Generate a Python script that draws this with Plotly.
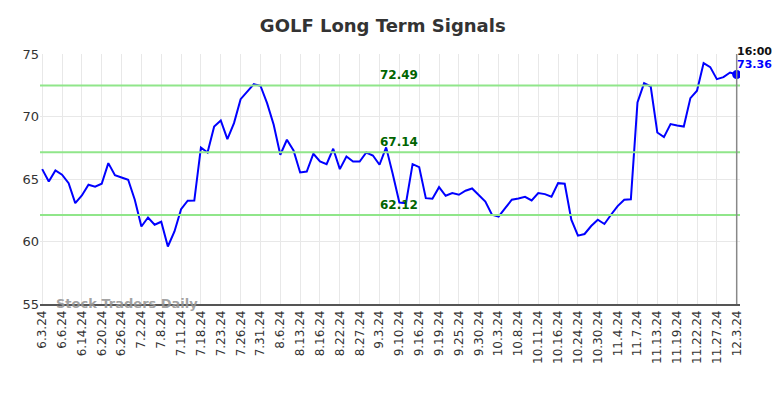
import plotly.graph_objects as go

tick_labels = ["6.3.24", "6.6.24", "6.14.24", "6.20.24", "6.26.24", "7.2.24", "7.8.24",
               "7.11.24", "7.18.24", "7.23.24", "7.26.24", "7.31.24", "8.6.24", "8.13.24",
               "8.16.24", "8.22.24", "8.27.24", "9.3.24", "9.10.24", "9.16.24", "9.19.24",
               "9.25.24", "9.30.24", "10.3.24", "10.8.24", "10.11.24", "10.16.24", "10.24.24",
               "10.30.24", "11.4.24", "11.7.24", "11.13.24", "11.19.24", "11.22.24",
               "11.27.24", "12.3.24"]

prices = [65.79, 64.80, 65.68, 65.34, 64.67, 63.07, 63.68, 64.54, 64.38, 64.62,
          66.27, 65.31, 65.12, 64.94, 63.34, 61.20, 61.92, 61.34, 61.58, 59.60,
          60.80, 62.59, 63.26, 63.28, 67.52, 67.12, 69.20, 69.68, 68.19, 69.47,
          71.39, 71.95, 72.59, 72.46, 71.07, 69.34, 66.94, 68.14, 67.28, 65.52,
          65.60, 67.02, 66.40, 66.19, 67.42, 65.79, 66.80, 66.40, 66.40, 67.12,
          66.88, 66.14, 67.53, 65.40, 63.12, 63.07, 66.19, 65.95, 63.47, 63.42,
          64.35, 63.66, 63.87, 63.74, 64.06, 64.24, 63.74, 63.20, 62.14, 62.00,
          62.67, 63.34, 63.44, 63.58, 63.29, 63.87, 63.79, 63.59, 64.67, 64.62,
          61.74, 60.47, 60.60, 61.24, 61.74, 61.40, 62.14, 62.83, 63.34, 63.38,
          71.12, 72.67, 72.40, 68.72, 68.35, 69.39, 69.28, 69.20, 71.47, 72.06,
          74.27, 73.95, 72.99, 73.15, 73.52, 73.36]

signal_levels = [72.49, 67.14, 62.12]
signal_labels = ["72.49", "67.14", "62.12"]
last_time = "16:00"
last_label = "73.36"

FONT = "DejaVu Sans, sans-serif"
x = list(range(len(prices)))
tick_vals = list(range(0, len(prices), 3))
n = len(prices) - 1

fig = go.Figure()

for lvl in signal_levels:
    fig.add_shape(type="line", xref="paper", x0=0, x1=1, yref="y", y0=lvl, y1=lvl,
                  line=dict(color="#90e68a", width=2), layer="above")

fig.add_shape(type="line", xref="x", x0=n, x1=n, yref="paper", y0=0, y1=1,
              line=dict(color="#888888", width=1.5))

fig.add_trace(go.Scatter(x=x, y=prices, mode="lines",
                         line=dict(color="#0000ff", width=2), hoverinfo="skip"))
fig.add_trace(go.Scatter(x=[n], y=[prices[-1]], mode="markers",
                         marker=dict(color="#0000ff", size=9), hoverinfo="skip"))

for lvl, lab in zip(signal_levels, signal_labels):
    fig.add_annotation(x=54, y=lvl, text="<b>" + lab + "</b>", showarrow=False,
                       xanchor="center", yanchor="bottom", yshift=1,
                       font=dict(family=FONT, size=12, color="#006400"))

fig.add_annotation(x=n, y=prices[-1], text="<b>" + last_time + "</b>", showarrow=False,
                   xanchor="left", yanchor="middle", xshift=-2, yshift=23,
                   font=dict(family=FONT, size=11, color="#111111"))
fig.add_annotation(x=n, y=prices[-1], text="<b>" + last_label + "</b>", showarrow=False,
                   xanchor="left", yanchor="middle", xshift=-2, yshift=10,
                   font=dict(family=FONT, size=11, color="#0000ff"))

fig.add_annotation(xref="paper", yref="y", x=0.02, y=55, text="<b>Stock Traders Daily</b>",
                   showarrow=False, xanchor="left", yanchor="middle", yshift=1,
                   font=dict(family=FONT, size=13, color="rgba(150,150,150,0.9)"))

fig.update_layout(
    width=784, height=398,
    margin=dict(l=32, r=52, t=46, b=102),
    paper_bgcolor="white", plot_bgcolor="white",
    showlegend=False,
    title=dict(text="<b>GOLF Long Term Signals</b>", x=0.478, xanchor="center", y=0.955,
               yanchor="middle", font=dict(family=FONT, size=18, color="#333333")),
    font=dict(family=FONT, size=12, color="#333333"),
)
fig.update_xaxes(range=[-0.33, 105.5], tickmode="array", tickvals=tick_vals, ticktext=tick_labels,
                 tickangle=-90, showgrid=True, gridcolor="#e8e8e8", gridwidth=1,
                 showline=True, linecolor="#555555", linewidth=1.5, ticks="",
                 tickfont=dict(family=FONT, size=12, color="#333333"), zeroline=False)
fig.update_yaxes(range=[55, 75], tickvals=[55, 60, 65, 70, 75], showgrid=True,
                 gridcolor="#e8e8e8", gridwidth=1, showline=False, ticks="",
                 tickfont=dict(family=FONT, size=13, color="#333333"), zeroline=False)

fig.write_html("out.html")
